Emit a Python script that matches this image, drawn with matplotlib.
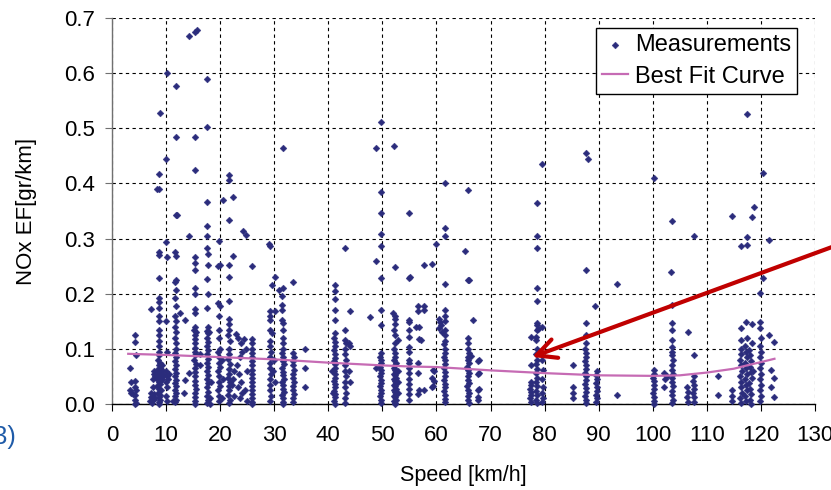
import matplotlib
matplotlib.use("Agg")
import matplotlib.pyplot as plt
from matplotlib.ticker import FormatStrFormatter

plt.rcParams['font.family'] = ['Liberation Sans', 'DejaVu Sans']

# ---- data: (speed [km/h], NOx EF [gr/km]) measurements, grouped by speed band ----
band_00_10 = [
    (3.4, 0.065), (3.5, 0.040), (3.6, 0.020), (3.3, 0.025), (3.8, 0.018),
    (4.2, 0.125), (4.3, 0.112), (4.4, 0.088), (4.3, 0.042), (4.2, 0.030),
    (4.4, 0.025), (4.3, 0.016), (4.2, 0.007), (4.4, 0.002), (4.3, 0.000),
    (7.0, 0.005), (7.2, 0.012), (7.3, 0.020), (7.4, 0.002), (7.5, 0.030),
    (7.6, 0.045), (7.7, 0.055), (7.2, 0.172), (7.8, 0.060), (7.9, 0.010),
    (8.0, 0.050), (7.5, 0.008), (7.8, 0.018),
    (8.4, 0.390), (8.7, 0.390), (8.7, 0.417), (8.8, 0.528), (8.6, 0.276),
    (8.6, 0.270), (8.7, 0.228), (8.7, 0.192), (8.6, 0.185), (8.7, 0.175),
    (8.7, 0.160), (8.7, 0.150), (8.6, 0.135), (8.7, 0.125), (8.6, 0.115),
    (8.7, 0.105), (8.6, 0.095), (8.7, 0.088), (8.5, 0.080), (8.8, 0.075),
    (8.6, 0.070), (8.9, 0.066), (8.4, 0.062), (8.7, 0.058), (9.0, 0.055),
    (8.5, 0.052), (8.8, 0.048), (8.3, 0.045), (9.1, 0.043), (8.6, 0.040),
    (8.9, 0.036), (8.4, 0.032), (8.7, 0.028), (9.0, 0.025), (8.5, 0.020),
    (8.8, 0.016), (8.6, 0.012), (8.9, 0.008), (8.7, 0.004), (8.6, 0.000),
    (9.2, 0.062), (9.3, 0.070), (9.4, 0.055), (9.2, 0.045), (9.5, 0.050),
    (10.0, 0.444), (10.1, 0.600), (10.0, 0.294), (10.1, 0.267), (10.0, 0.150),
    (10.2, 0.095), (10.0, 0.060), (10.1, 0.050), (9.9, 0.040), (10.2, 0.030),
    (10.0, 0.015), (10.1, 0.005), (10.5, 0.055), (10.4, 0.045),
]

band_10_20 = [
    (11.8, 0.577), (11.8, 0.484), (11.8, 0.343), (12.0, 0.343), (11.6, 0.275),
    (11.9, 0.268), (11.6, 0.222), (11.9, 0.224), (11.8, 0.207), (11.7, 0.192),
    (11.8, 0.178), (11.6, 0.160), (11.9, 0.150), (11.7, 0.140), (11.8, 0.130),
    (11.7, 0.120), (11.8, 0.110), (11.9, 0.100), (11.7, 0.092), (11.8, 0.085),
    (11.6, 0.078), (11.9, 0.070), (11.7, 0.063), (11.8, 0.056), (11.6, 0.050),
    (11.9, 0.044), (11.7, 0.038), (11.8, 0.032), (11.6, 0.026), (11.9, 0.020),
    (11.7, 0.014), (11.8, 0.008), (11.7, 0.003), (11.3, 0.005),
    (12.6, 0.165), (13.5, 0.152), (13.5, 0.044), (13.3, 0.020), (14.2, 0.056),
    (14.2, 0.305), (14.2, 0.668), (15.4, 0.674), (15.8, 0.679),
    (15.4, 0.484), (15.4, 0.425), (15.3, 0.267), (15.4, 0.255), (15.3, 0.243),
    (15.4, 0.210), (15.3, 0.200), (15.4, 0.172), (15.3, 0.165), (15.4, 0.140),
    (15.2, 0.135), (15.5, 0.130), (15.3, 0.125), (15.4, 0.118), (15.3, 0.110),
    (15.4, 0.102), (15.3, 0.095), (15.4, 0.088), (15.2, 0.080), (15.5, 0.072),
    (15.3, 0.065), (15.4, 0.058), (15.3, 0.050), (15.4, 0.042), (15.3, 0.035),
    (15.5, 0.028), (15.3, 0.020), (15.4, 0.012), (15.3, 0.005), (15.4, 0.000),
    (16.2, 0.070), (16.3, 0.090),
    (17.6, 0.589), (17.6, 0.503), (17.6, 0.367), (17.6, 0.322), (17.6, 0.304),
    (17.6, 0.283), (17.7, 0.272), (17.7, 0.252), (17.6, 0.226), (17.7, 0.200),
    (17.6, 0.174), (17.7, 0.140), (17.5, 0.132), (17.8, 0.128), (17.6, 0.120),
    (17.7, 0.112), (17.5, 0.105), (17.8, 0.098), (17.6, 0.090), (17.7, 0.082),
    (17.5, 0.075), (17.8, 0.068), (17.6, 0.060), (17.7, 0.052), (17.5, 0.045),
    (17.8, 0.038), (17.6, 0.030), (17.7, 0.022), (17.5, 0.015), (17.8, 0.008),
    (17.6, 0.002), (18.2, 0.010), (18.3, 0.040), (18.0, 0.130), (18.2, 0.000),
    (19.7, 0.295), (19.6, 0.250), (19.9, 0.252), (19.6, 0.183), (19.9, 0.177),
    (20.5, 0.370), (19.8, 0.160), (19.7, 0.135), (19.8, 0.120), (19.9, 0.100),
    (19.6, 0.095), (19.8, 0.085), (19.7, 0.075), (20.0, 0.068), (19.6, 0.060),
    (19.8, 0.050), (19.7, 0.040), (19.9, 0.032), (19.6, 0.025), (19.8, 0.015),
    (19.7, 0.006), (20.3, 0.080), (20.5, 0.045), (20.4, 0.010),
]

band_20_40 = [
    (21.6, 0.416), (21.6, 0.406), (21.6, 0.334), (22.3, 0.376), (22.4, 0.269),
    (21.6, 0.252), (21.7, 0.231), (21.6, 0.186), (21.7, 0.155), (21.6, 0.145),
    (21.7, 0.135), (21.5, 0.125), (21.8, 0.115), (21.6, 0.100), (21.7, 0.090),
    (21.5, 0.082), (21.8, 0.072), (21.6, 0.063), (21.7, 0.055), (21.5, 0.048),
    (21.8, 0.040), (21.6, 0.032), (21.7, 0.025), (21.5, 0.016), (21.8, 0.008),
    (21.6, 0.002), (22.2, 0.035), (22.5, 0.060), (22.3, 0.045), (22.6, 0.015),
    (24.2, 0.314), (24.8, 0.307), (25.8, 0.250), (23.0, 0.127), (23.3, 0.120),
    (23.8, 0.110), (24.0, 0.095), (23.6, 0.085), (23.2, 0.070), (23.5, 0.055),
    (23.8, 0.040), (23.3, 0.030), (24.1, 0.020), (23.6, 0.010), (24.5, 0.118),
    (24.8, 0.100), (25.0, 0.060), (24.6, 0.025), (24.9, 0.005),
    (25.8, 0.118), (25.8, 0.110), (25.9, 0.100), (25.8, 0.092), (25.9, 0.085),
    (25.8, 0.078), (25.8, 0.070), (25.9, 0.062), (25.8, 0.055), (25.9, 0.048),
    (25.8, 0.040), (25.8, 0.032), (25.9, 0.025), (25.8, 0.018), (25.8, 0.010),
    (25.9, 0.004), (25.8, 0.000),
    (29.1, 0.290), (29.2, 0.287), (29.5, 0.216), (30.1, 0.231), (30.8, 0.207),
    (31.7, 0.210), (31.6, 0.465), (29.2, 0.168), (29.2, 0.160), (29.3, 0.152),
    (30.1, 0.168), (29.2, 0.134), (29.5, 0.128), (29.3, 0.115), (29.2, 0.105),
    (29.4, 0.095), (29.2, 0.085), (29.3, 0.075), (29.2, 0.065), (29.4, 0.055),
    (29.2, 0.045), (29.3, 0.035), (29.2, 0.025), (29.4, 0.015), (29.2, 0.005),
    (29.8, 0.060), (30.0, 0.080), (30.2, 0.040),
    (31.4, 0.195), (31.5, 0.180), (31.4, 0.170), (31.5, 0.152), (31.7, 0.146),
    (31.6, 0.135), (31.7, 0.120), (31.6, 0.110), (31.7, 0.100), (31.5, 0.092),
    (31.7, 0.085), (31.6, 0.078), (31.8, 0.072), (31.5, 0.065), (31.7, 0.058),
    (31.6, 0.052), (31.8, 0.046), (31.5, 0.040), (31.7, 0.034), (31.6, 0.028),
    (31.8, 0.022), (31.5, 0.016), (31.7, 0.010), (31.6, 0.004), (31.7, 0.000),
    (33.5, 0.222), (33.5, 0.092), (33.6, 0.085), (33.5, 0.078), (33.5, 0.070),
    (33.6, 0.062), (33.5, 0.055), (33.5, 0.047), (33.6, 0.040), (33.5, 0.032),
    (33.5, 0.025), (33.6, 0.018), (33.5, 0.010), (33.5, 0.003),
    (35.7, 0.100), (35.7, 0.065), (35.7, 0.031),
]

band_40_60 = [
    (41.2, 0.216), (41.2, 0.205), (41.2, 0.190), (41.2, 0.170), (41.2, 0.152),
    (41.2, 0.128), (41.1, 0.120), (41.2, 0.112), (41.3, 0.105), (41.1, 0.098),
    (41.2, 0.090), (41.3, 0.084), (41.1, 0.078), (41.2, 0.072), (41.3, 0.066),
    (41.1, 0.060), (41.2, 0.054), (41.3, 0.048), (41.1, 0.042), (41.2, 0.036),
    (41.3, 0.030), (41.1, 0.024), (41.2, 0.018), (41.3, 0.012), (41.1, 0.006),
    (41.2, 0.000), (40.7, 0.060), (40.8, 0.020),
    (43.1, 0.283), (43.1, 0.135), (43.1, 0.116), (43.2, 0.110), (43.1, 0.100),
    (43.0, 0.090), (43.2, 0.080), (43.1, 0.070), (43.0, 0.060), (43.2, 0.050),
    (43.1, 0.040), (43.0, 0.030), (43.2, 0.020), (43.1, 0.010), (43.1, 0.002),
    (44.1, 0.168), (43.9, 0.110), (44.0, 0.105), (44.1, 0.040), (43.9, 0.059),
    (47.8, 0.157), (48.9, 0.464), (48.9, 0.260), (48.9, 0.066), (49.7, 0.511),
    (49.7, 0.384), (49.7, 0.346), (49.7, 0.308), (49.7, 0.286), (49.7, 0.228),
    (49.7, 0.171), (49.7, 0.143), (49.7, 0.092), (49.6, 0.086), (49.8, 0.080),
    (49.7, 0.074), (49.6, 0.068), (49.8, 0.062), (49.7, 0.056), (49.6, 0.050),
    (49.8, 0.044), (49.7, 0.038), (49.6, 0.032), (49.8, 0.026), (49.7, 0.020),
    (49.6, 0.014), (49.8, 0.008), (49.7, 0.002),
    (52.2, 0.468), (52.3, 0.248), (52.0, 0.165), (52.3, 0.160), (52.4, 0.155),
    (52.3, 0.145), (52.2, 0.135), (52.4, 0.125), (52.9, 0.116), (52.3, 0.110),
    (52.2, 0.100), (52.4, 0.092), (52.3, 0.085), (52.1, 0.080), (52.5, 0.075),
    (52.3, 0.070), (52.2, 0.066), (52.4, 0.062), (52.6, 0.058), (52.1, 0.055),
    (52.3, 0.052), (52.5, 0.048), (52.2, 0.045), (52.4, 0.042), (52.6, 0.038),
    (52.1, 0.035), (52.3, 0.032), (52.5, 0.028), (52.2, 0.025), (52.4, 0.022),
    (52.6, 0.018), (52.1, 0.015), (52.3, 0.012), (52.5, 0.008), (52.2, 0.005),
    (52.4, 0.002), (52.3, 0.000), (52.8, 0.060), (52.9, 0.040), (52.8, 0.020),
    (55.0, 0.346), (55.1, 0.231), (55.0, 0.229), (55.0, 0.152), (55.0, 0.149),
    (55.0, 0.134), (55.0, 0.122), (55.0, 0.104), (55.0, 0.095), (55.0, 0.080),
    (55.0, 0.074), (55.0, 0.065), (55.0, 0.056), (55.0, 0.045), (55.0, 0.037),
    (55.0, 0.028), (55.0, 0.019), (55.0, 0.007),
    (56.5, 0.177), (56.5, 0.168), (56.8, 0.140), (56.3, 0.139), (57.1, 0.116),
    (56.8, 0.117), (56.6, 0.074), (56.5, 0.056), (56.6, 0.018), (56.8, 0.025),
    (57.7, 0.252), (57.7, 0.177), (57.7, 0.170), (57.7, 0.025), (59.2, 0.254),
    (59.2, 0.031), (59.4, 0.062), (59.6, 0.059), (59.2, 0.047), (59.6, 0.041),
    (59.3, 0.033),
]

band_60_80 = [
    (60.0, 0.290), (61.5, 0.400), (61.5, 0.319), (61.5, 0.304), (61.5, 0.218),
    (60.6, 0.149), (60.4, 0.155), (60.8, 0.143), (61.0, 0.131), (60.5, 0.137),
    (61.5, 0.170), (61.5, 0.160), (61.5, 0.150), (61.5, 0.135), (61.5, 0.125),
    (61.6, 0.115), (61.4, 0.108), (61.5, 0.100), (61.6, 0.093), (61.4, 0.086),
    (61.5, 0.079), (61.6, 0.072), (61.4, 0.065), (61.5, 0.058), (61.6, 0.051),
    (61.4, 0.044), (61.5, 0.037), (61.6, 0.030), (61.4, 0.023), (61.5, 0.016),
    (61.6, 0.009), (61.5, 0.003),
    (65.3, 0.278), (65.9, 0.388), (65.9, 0.225), (66.0, 0.225), (66.8, 0.152),
    (65.9, 0.119), (65.9, 0.110), (65.9, 0.100), (66.0, 0.092), (65.8, 0.086),
    (65.9, 0.080), (66.0, 0.074), (65.7, 0.068), (65.9, 0.062), (66.1, 0.056),
    (65.8, 0.050), (65.9, 0.044), (66.0, 0.038), (65.7, 0.032), (65.9, 0.026),
    (66.1, 0.020), (65.8, 0.014), (65.9, 0.008), (66.0, 0.002), (66.3, 0.087),
    (67.6, 0.078), (67.9, 0.080), (67.6, 0.054), (67.9, 0.056), (67.6, 0.025),
    (67.9, 0.028), (67.6, 0.013), (67.6, 0.008),
    (78.5, 0.364), (78.5, 0.304), (78.5, 0.283), (79.5, 0.436), (78.5, 0.211),
    (78.5, 0.186), (78.5, 0.146), (78.5, 0.134), (78.4, 0.122), (77.4, 0.122),
    (79.5, 0.140), (78.6, 0.143), (78.7, 0.136), (78.4, 0.116), (78.5, 0.100),
    (78.4, 0.090), (78.5, 0.080), (78.4, 0.072), (78.5, 0.064), (78.4, 0.056),
    (78.5, 0.048), (78.4, 0.040), (78.5, 0.032), (78.4, 0.024), (78.5, 0.016),
    (78.4, 0.008), (78.5, 0.002), (77.5, 0.070), (77.4, 0.040), (77.5, 0.034),
    (77.3, 0.028), (77.5, 0.022), (77.4, 0.016), (77.3, 0.010), (77.5, 0.004),
    (79.6, 0.080), (79.7, 0.062), (79.6, 0.045), (79.7, 0.030), (79.6, 0.020),
    (79.7, 0.010), (79.6, 0.004),
]

band_80_100 = [
    (85.2, 0.070), (85.3, 0.031), (85.2, 0.020), (85.3, 0.010), (87.6, 0.455),
    (88.1, 0.445), (87.6, 0.243), (87.6, 0.146), (87.7, 0.125), (87.6, 0.110),
    (87.5, 0.100), (87.7, 0.092), (87.6, 0.085), (87.5, 0.078), (87.7, 0.071),
    (87.6, 0.064), (87.5, 0.057), (87.7, 0.050), (87.6, 0.043), (87.5, 0.036),
    (87.7, 0.029), (87.6, 0.022), (87.5, 0.015), (87.7, 0.008), (87.6, 0.002),
    (89.4, 0.177), (89.6, 0.059), (89.5, 0.052), (89.7, 0.045), (89.5, 0.038),
    (89.6, 0.031), (89.7, 0.024), (89.5, 0.017), (89.6, 0.010), (89.5, 0.004),
    (93.4, 0.218), (93.4, 0.016),
]

band_100_125 = [
    (100.2, 0.410), (100.2, 0.062), (100.2, 0.055), (100.1, 0.048), (100.2, 0.041),
    (100.3, 0.034), (100.2, 0.027), (100.1, 0.020), (100.2, 0.013), (100.3, 0.006),
    (100.2, 0.000), (102.1, 0.056), (102.2, 0.045), (102.1, 0.031), (102.6, 0.050),
    (103.3, 0.240), (103.6, 0.331), (103.6, 0.180), (103.6, 0.146), (103.6, 0.134),
    (103.6, 0.116), (103.6, 0.104), (103.6, 0.095), (103.5, 0.088), (103.7, 0.080),
    (103.6, 0.070), (103.5, 0.062), (103.7, 0.055), (103.6, 0.048), (103.5, 0.040),
    (103.7, 0.032), (103.6, 0.024), (103.5, 0.016), (103.7, 0.008), (103.6, 0.002),
    (106.6, 0.131), (107.6, 0.304), (107.6, 0.089), (106.4, 0.031), (106.5, 0.022),
    (106.4, 0.012), (106.5, 0.004), (107.6, 0.050), (107.5, 0.042), (107.7, 0.035),
    (107.6, 0.028), (107.5, 0.020), (107.7, 0.012), (107.6, 0.004),
    (112.1, 0.050), (112.1, 0.016), (114.6, 0.341), (114.6, 0.025), (114.6, 0.015),
    (114.7, 0.005),
    (117.4, 0.526), (118.8, 0.358), (118.3, 0.340), (117.5, 0.302), (116.3, 0.287),
    (117.5, 0.288), (121.5, 0.298), (120.3, 0.419), (120.3, 0.228), (119.8, 0.202),
    (116.3, 0.137), (117.2, 0.149), (118.3, 0.145), (119.8, 0.149), (119.8, 0.137),
    (121.5, 0.125), (122.4, 0.113), (120.0, 0.119), (116.3, 0.116), (117.5, 0.119),
    (116.3, 0.100), (116.4, 0.090), (116.2, 0.080), (116.3, 0.070), (116.5, 0.060),
    (116.2, 0.050), (116.4, 0.040), (116.3, 0.030), (116.5, 0.020), (116.2, 0.010),
    (116.4, 0.002), (117.0, 0.105), (117.2, 0.095), (117.4, 0.085), (117.1, 0.075),
    (117.3, 0.065), (117.5, 0.055), (117.0, 0.045), (117.2, 0.035), (117.4, 0.025),
    (117.1, 0.015), (117.3, 0.005), (117.8, 0.098), (118.0, 0.088), (118.2, 0.078),
    (117.9, 0.068), (118.1, 0.058), (118.3, 0.048), (117.8, 0.038), (118.0, 0.028),
    (118.2, 0.018), (117.9, 0.008), (118.1, 0.000), (118.4, 0.110), (118.5, 0.060),
    (119.8, 0.105), (120.0, 0.095), (119.9, 0.085), (120.1, 0.075), (119.8, 0.065),
    (120.0, 0.055), (119.9, 0.045), (120.1, 0.035), (119.8, 0.025), (120.0, 0.015),
    (119.9, 0.006), (121.8, 0.062), (122.4, 0.048), (121.8, 0.031), (122.4, 0.013),
]

# best fit curve (speed, NOx EF)
fit_speed = [3, 10, 20, 30, 40, 50, 55, 60, 70, 80, 90, 100, 105, 110, 115, 117, 120, 122.5]
fit_nox = [0.091, 0.089, 0.085, 0.081, 0.075, 0.070, 0.068, 0.067, 0.061, 0.056,
           0.052, 0.051, 0.052, 0.057, 0.064, 0.069, 0.076, 0.082]

x_ticks = list(range(0, 131, 10))
y_ticks = [0.0, 0.1, 0.2, 0.3, 0.4, 0.5, 0.6, 0.7]

# ---- plotting ----
all_points = band_00_10 + band_10_20 + band_20_40 + band_40_60 + band_60_80 + band_80_100 + band_100_125
speed = [p[0] for p in all_points]
nox = [p[1] for p in all_points]

W, H = 831, 490
fig = plt.figure(figsize=(W / 100, H / 100), dpi=100)
ax = fig.add_axes([112 / W, 1 - 404 / H, 703 / W, 386 / H])

ax.scatter(speed, nox, marker='D', s=12, color='#2B2C7C', linewidths=0.3,
           edgecolors='#2B2C7C', zorder=3, label='Measurements', clip_on=False)
ax.plot(fit_speed, fit_nox, color='#C66BB4', lw=1.6, zorder=4, label='Best Fit Curve')

ax.set_xlim(0, 130)
ax.set_ylim(0, 0.7)
ax.set_xticks(x_ticks)
ax.set_yticks(y_ticks)
ax.yaxis.set_major_formatter(FormatStrFormatter('%.1f'))

ax.grid(True, color='black', linestyle=(0, (3, 3)), linewidth=0.8)
ax.set_axisbelow(True)
for s in ('top', 'right'):
    ax.spines[s].set_visible(False)
ax.spines['left'].set_color('#707070')
ax.spines['left'].set_linewidth(1.0)
ax.spines['bottom'].set_color('black')
ax.spines['bottom'].set_linewidth(1.0)

ax.tick_params(axis='x', direction='out', length=5, width=0.8, pad=10,
               labelsize=16, colors='black')
ax.tick_params(axis='y', direction='out', length=5, width=0.8, pad=7,
               labelsize=16, color='#707070', labelcolor='black')

ax.set_xlabel('Speed [km/h]', fontsize=15.5)
ax.xaxis.set_label_coords(0.5, -0.158)
ax.set_ylabel('NOx EF[gr/km]', fontsize=16)
ax.yaxis.set_label_coords(-0.107, 0.5)

leg = ax.legend(loc='upper right', bbox_to_anchor=(797.3 / W, 1 - 28.3 / H),
                bbox_transform=fig.transFigure, borderaxespad=0, fontsize=17,
                frameon=True, fancybox=False, framealpha=1, edgecolor='black',
                scatterpoints=1, handlelength=1.1, handletextpad=0.3,
                borderpad=0.25, labelspacing=0.4, markerscale=1.0)
leg.get_frame().set_linewidth(1.0)

# red arrow annotation pointing at the curve
ax.annotate('', xy=(77.7, 0.0853), xycoords='data',
            xytext=(862, 490 - 236), textcoords='figure pixels',
            arrowprops=dict(arrowstyle='->,head_length=1.4,head_width=0.7',
                            color='#C00000', lw=3, shrinkA=0, shrinkB=0),
            annotation_clip=False, zorder=6)

fig.text(16 / W, 1 - 437 / H, '(3)', ha='right', va='center',
         color='#1F5BA8', fontsize=18)

fig.savefig('out.png', dpi=100)
